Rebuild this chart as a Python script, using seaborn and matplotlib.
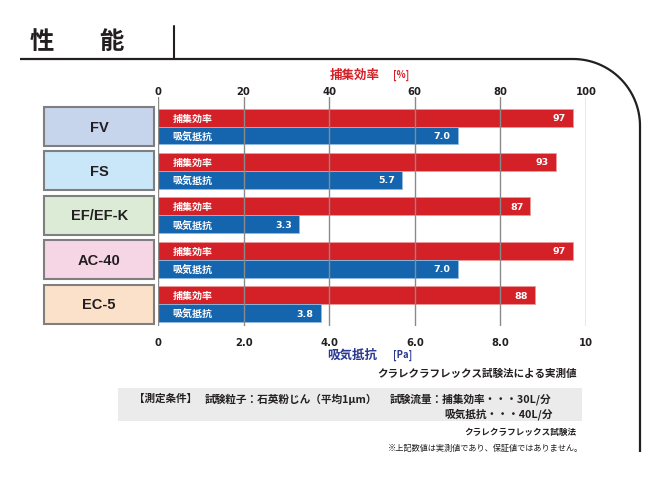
import numpy as np
import pandas as pd
import matplotlib
matplotlib.use('Agg')
import matplotlib.pyplot as plt
import seaborn as sns
from matplotlib.patches import Rectangle

# data
products = ['FV', 'FS', 'EF/EF-K', 'AC-40', 'EC-5']
efficiency = [97, 93, 87, 97, 88]          # 捕集効率 [%]
resistance = [7.0, 5.7, 3.3, 7.0, 3.8]     # 吸気抵抗 [Pa]
metrics = ['捕集効率', '吸気抵抗']
box_colors = ['#c6d4ec', '#c9e7f8', '#dbebd5', '#f6d5e5', '#fbe1c9']
pct_ticks = [0, 20, 40, 60, 80, 100]
pa_ticks = [0, 2, 4, 6, 8, 10]
pa_tick_labels = ['0', '2.0', '4.0', '6.0', '8.0', '10']

RED = '#d42027'
BLUE = '#1565ae'
NAVY = '#2b3990'
INK = '#231f20'
CJK = ['Noto Sans CJK JP', 'DejaVu Sans']
NUM = ['DejaVu Sans']

sns.set_theme(style='white')
plt.rcParams['font.family'] = CJK

# long table; resistance (0-10 Pa) shares the 0-100 axis, so x10
df = pd.DataFrame({
    'product': products * 2,
    'metric': [metrics[0]] * len(products) + [metrics[1]] * len(products),
    'value': efficiency + [r * 10 for r in resistance],
})

fig = plt.figure(figsize=(6.6, 4.89), dpi=100)

# overlay in pixel coords for frame and notes
ov = fig.add_axes([0, 0, 1, 1], zorder=0)
ov.set_xlim(0, 660)
ov.set_ylim(489, 0)
ov.axis('off')

ax = fig.add_axes([158 / 660, 1 - 327 / 489, 428 / 660, 229 / 489], zorder=1)
ax.patch.set_alpha(0)
sns.barplot(data=df, y='product', x='value', hue='metric', order=products,
            hue_order=metrics, palette=[RED, BLUE], width=0.81, gap=0,
            saturation=1, legend=False, ax=ax)
ax.set_xlim(0, 100)
ax.set_ylim(4.49, -0.664)
ax.set_xlabel('')
ax.set_ylabel('')
ax.set_yticks([])
ax.xaxis.tick_top()
ax.set_xticks(pct_ticks)
ax.tick_params(axis='x', length=0, pad=1, labelsize=7.2, labelcolor=INK)
for t in ax.get_xticklabels():
    t.set_family(NUM)
    t.set_fontweight('bold')
ax.grid(axis='x', color='#8a8a8a', lw=1)
ax.set_axisbelow(False)
for s in ax.spines.values():
    s.set_visible(False)

sec = ax.secondary_xaxis('bottom', functions=(lambda x: x / 10, lambda x: x * 10))
sec.set_xticks(pa_ticks, pa_tick_labels)
sec.tick_params(length=0, pad=8, labelsize=7.2, labelcolor=INK)
for t in sec.get_xticklabels():
    t.set_family(NUM)
    t.set_fontweight('bold')
for s in sec.spines.values():
    s.set_visible(False)

# bar outlines, inner labels and values
edge_cols = ['#ee9a9a', '#8fbbe4']
vals = [efficiency, [f'{r:.1f}' for r in resistance]]
for k, cont in enumerate(ax.containers):
    for i, bar in enumerate(cont):
        bar.set_edgecolor(edge_cols[k])
        bar.set_linewidth(0.6)
        yc = bar.get_y() + bar.get_height() / 2
        ax.text(3.4, yc, metrics[k], color='white', fontsize=7.2,
                fontweight='bold', va='center', ha='left')
        ax.annotate(str(vals[k][i]), (bar.get_width(), yc), xytext=(-5, 0),
                    textcoords='offset points', color='white', fontsize=6.8,
                    fontweight='bold', family=NUM, va='center', ha='right')

# product name boxes left of the bars
for i, (name, col) in enumerate(zip(products, box_colors)):
    ax.add_patch(Rectangle((-26.6, i - 0.44), 25.7, 0.88, facecolor=col,
                           edgecolor='#7f7f7f', lw=1.5, clip_on=False))
    ax.text(-13.75, i, name, ha='center', va='center', fontsize=10.5,
            fontweight='bold', color=INK, family=['Liberation Sans'])

# axis titles
ov.text(330, 75, '捕集効率', color=RED, fontsize=9, fontweight='bold', va='center')
ov.text(393, 75, '[%]', color=RED, fontsize=6.8, fontweight='bold', va='center')
ov.text(327, 355, '吸気抵抗', color=NAVY, fontsize=9, fontweight='bold', va='center')
ov.text(393, 355, '[Pa]', color=NAVY, fontsize=6.8, fontweight='bold', va='center')

# heading and frame
ov.text(42, 42, '性', fontsize=17.5, fontweight='bold', color=INK, ha='center', va='center')
ov.text(111, 42, '能', fontsize=17.5, fontweight='bold', color=INK, ha='center', va='center')
ov.plot([174, 174], [27, 60], color=INK, lw=1.5)
th = np.linspace(np.pi / 2, 0, 40)
fx = [20] + list(573 + 67 * np.cos(th)) + [640]
fy = [60] + list(127 - 67 * np.sin(th)) + [453]
ov.plot(fx, fy, color=INK, lw=1.6, solid_capstyle='butt')

# notes
ov.text(577, 374, 'クラレクラフレックス試験法による実測値', ha='right', va='center',
        fontsize=7.6, fontweight='bold', color=INK)
ov.add_patch(Rectangle((118, 389), 464, 33, facecolor='#ebebeb', edgecolor='none'))
ov.text(134, 399, '【測定条件】', va='center', fontsize=7.6, fontweight='bold', color=INK)
ov.text(205, 399, '試験粒子：石英粉じん（平均1μm）', va='center', fontsize=7.7,
        fontweight='bold', color=INK)
ov.text(390, 399, '試験流量：捕集効率・・・30L/分', va='center', fontsize=7.7,
        fontweight='bold', color=INK)
ov.text(444, 414, '吸気抵抗・・・40L/分', va='center', fontsize=7.7,
        fontweight='bold', color=INK)
ov.text(577, 432, 'クラレクラフレックス試験法', ha='right', va='center', fontsize=6.2,
        fontweight='bold', color=INK)
ov.text(583, 448, '※上記数値は実測値であり、保証値ではありません。', ha='right',
        va='center', fontsize=5.9, color=INK)

fig.savefig('out.png', dpi=100)
